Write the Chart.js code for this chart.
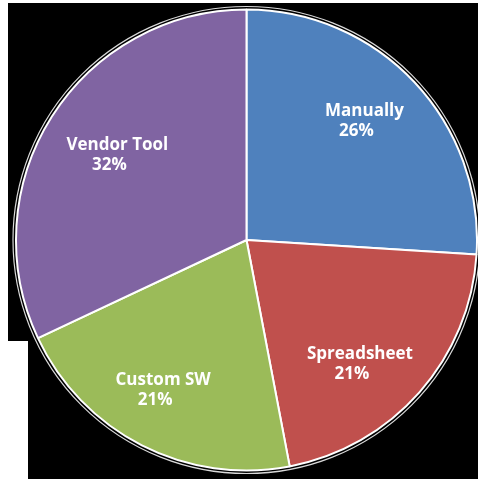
<!DOCTYPE html>
<html lang="en">
<head>
  <meta charset="UTF-8">
  <title>Pie</title>
  <script src="https://cdn.jsdelivr.net/npm/chart.js"></script>
  <style>
    body { margin: 0; background: #ffffff; }
    canvas { display: block; }
  </style>
</head>
<body>
  <canvas id="chart" width="478" height="479"></canvas>
  <script>
    const categories = ['Manually', 'Spreadsheet', 'Custom SW', 'Vendor Tool'];
    const shares = [26, 21, 21, 32];
    const sliceColors = ['#4F81BD', '#C0504D', '#9BBB59', '#8064A2'];

    // black backdrop behind the pie (as in the source image)
    const backdrop = {
      id: 'backdrop',
      beforeDraw(chart) {
        const c = chart.ctx;
        c.save();
        c.fillStyle = '#000';
        c.fillRect(8, 3, 470, 338);
        c.fillRect(28, 340, 450, 139);
        c.restore();
      }
    };

    // small per-label nudges so they sit where Excel put them
    const nudge = [[-3, -5], [-11, 14], [-8, 2], [11, 4]];

    // thin white ring + slice labels
    const labels = {
      id: 'labels',
      afterDraw(chart) {
        const c = chart.ctx;
        const arcs = chart.getDatasetMeta(0).data;
        const a0 = arcs[0];
        c.save();
        c.strokeStyle = 'rgba(255,255,255,0.85)';
        c.lineWidth = 1.2;
        c.beginPath();
        c.arc(a0.x, a0.y, a0.outerRadius + 3, 0, Math.PI * 2);
        c.stroke();

        c.fillStyle = '#fff';
        c.font = 'bold 17px "Open Sans", sans-serif';
        c.textAlign = 'center';
        c.textBaseline = 'middle';
        arcs.forEach((arc, i) => {
          const mid = (arc.startAngle + arc.endAngle) / 2;
          const r = arc.outerRadius * 0.72;
          const x = arc.x + Math.cos(mid) * r + nudge[i][0];
          const y = arc.y + Math.sin(mid) * r + nudge[i][1];
          c.fillText(categories[i], x, y - 10);
          c.fillText(shares[i] + '%', x - 8, y + 10);
        });
        c.restore();
      }
    };

    new Chart(document.getElementById('chart'), {
      type: 'pie',
      data: {
        labels: categories,
        datasets: [{
          data: shares,
          backgroundColor: sliceColors,
          borderColor: '#ffffff',
          borderWidth: 2
        }]
      },
      options: {
        responsive: false,
        animation: false,
        layout: { padding: { left: 15, right: 0, top: 8, bottom: 7 } },
        plugins: {
          legend: { display: false },
          tooltip: { enabled: false }
        }
      },
      plugins: [backdrop, labels]
    });
  </script>
</body>
</html>
